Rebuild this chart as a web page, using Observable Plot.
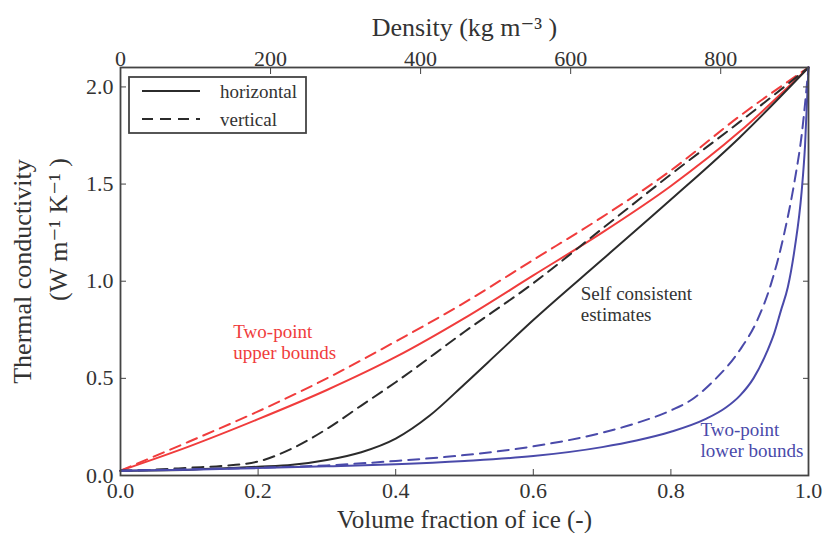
<!DOCTYPE html>
<html><head><meta charset="utf-8">
<script src="https://cdn.jsdelivr.net/npm/d3@7"></script>
<script src="https://cdn.jsdelivr.net/npm/@observablehq/plot@0.6"></script>
<style>
body{margin:0;background:#fff;}
#wrap{position:relative;width:825px;height:533px;}
#legend{position:absolute;left:128px;top:76px;}
</style></head><body><div id="wrap"></div>
<script>
const iceDensity = 917;
const xTicks = [0, 0.2, 0.4, 0.6, 0.8, 1.0];
const yTicks = [0, 0.5, 1.0, 1.5, 2.0];
const densityTicks = [0, 200, 400, 600, 800];

// Two-point upper bounds
const phiUpperH = [0, 0.1, 0.2, 0.3, 0.4, 0.5, 0.6, 0.7, 0.8, 0.9, 1.0];
const kUpperH   = [0.025, 0.15, 0.29, 0.44, 0.61, 0.81, 1.03, 1.25, 1.49, 1.77, 2.1];
const phiUpperV = [0, 0.1, 0.2, 0.3, 0.4, 0.5, 0.6, 0.7, 0.8, 0.9, 1.0];
const kUpperV   = [0.025, 0.175, 0.33, 0.50, 0.69, 0.89, 1.11, 1.33, 1.57, 1.85, 2.1];
// Self consistent estimates
const phiSelfH = [0, 0.1, 0.2, 0.25, 0.3, 0.35, 0.4, 0.45, 0.5, 0.55, 0.6, 0.7, 0.8, 0.9, 1.0];
const kSelfH   = [0.025, 0.03, 0.045, 0.055, 0.08, 0.12, 0.19, 0.31, 0.47, 0.635, 0.80, 1.11, 1.42, 1.74, 2.1];
const phiSelfV = [0, 0.05, 0.1, 0.15, 0.2, 0.25, 0.3, 0.35, 0.4, 0.5, 0.6, 0.7, 0.8, 0.9, 1.0];
const kSelfV   = [0.025, 0.03, 0.04, 0.05, 0.072, 0.14, 0.24, 0.36, 0.48, 0.74, 0.99, 1.27, 1.55, 1.82, 2.1];
// Two-point lower bounds
const phiLowerH = [0, 0.1, 0.2, 0.3, 0.4, 0.5, 0.6, 0.7, 0.75, 0.8, 0.85, 0.88, 0.9, 0.92, 0.94, 0.95, 0.96, 0.97, 0.98, 0.99, 0.995, 1.0];
const kLowerH   = [0.025, 0.03, 0.038, 0.047, 0.058, 0.075, 0.10, 0.146, 0.18, 0.225, 0.29, 0.35, 0.41, 0.50, 0.64, 0.73, 0.85, 0.97, 1.17, 1.46, 1.70, 2.1];
const phiLowerV = [0, 0.1, 0.2, 0.3, 0.4, 0.5, 0.6, 0.7, 0.75, 0.8, 0.83, 0.86, 0.9, 0.925, 0.945, 0.965, 0.98, 0.99, 1.0];
const kLowerV   = [0.025, 0.032, 0.04, 0.052, 0.075, 0.105, 0.15, 0.22, 0.27, 0.335, 0.39, 0.48, 0.645, 0.795, 0.98, 1.25, 1.52, 1.75, 2.1];

const RED = "#f03c3c", BLUE = "#4a4aaa", BLACK = "#2b2b2b";
const series = [
  {phi: phiUpperH, k: kUpperH, color: RED, dash: null},
  {phi: phiUpperV, k: kUpperV, color: RED, dash: "11,7"},
  {phi: phiSelfH, k: kSelfH, color: BLACK, dash: null},
  {phi: phiSelfV, k: kSelfV, color: BLACK, dash: "11,7"},
  {phi: phiLowerH, k: kLowerH, color: BLUE, dash: null},
  {phi: phiLowerV, k: kLowerV, color: BLUE, dash: "11,7"}
];

const annotations = [
  {phi: 0.164, k: 0.686, text: "Two-point\nupper bounds", color: RED},
  {phi: 0.669, k: 0.884, text: "Self consistent\nestimates", color: "#333"},
  {phi: 0.843, k: 0.185, text: "Two-point\nlower bounds", color: BLUE}
];

const FONT = "'Liberation Serif', 'DejaVu Serif', serif";
const fmt1 = d3.format(".1f");

const lineMarks = series.map(s => Plot.line(s.phi.map((p, i) => ({phi: p, k: s.k[i]})), {
  x: "phi", y: "k", stroke: s.color, strokeWidth: 2, strokeDasharray: s.dash, curve: "monotone-x"
}));

const chart = Plot.plot({
  width: 825, height: 533,
  marginLeft: 120, marginRight: 17, marginTop: 67, marginBottom: 58,
  style: {fontFamily: FONT, fontSize: "22px", color: "#333", background: "#fff"},
  x: {domain: [0, 1]},
  y: {domain: [0, 2.1]},
  marks: [
    ...lineMarks,
    Plot.text(annotations, {x: "phi", y: "k", text: "text", fill: "color", textAnchor: "start", lineAnchor: "middle", lineHeight: 1.1, fontSize: 19}),
    Plot.axisX({anchor: "bottom", ticks: xTicks, tickSize: 0, tickPadding: 7, tickFormat: fmt1, label: null, fill: "#333"}),
    Plot.axisX({anchor: "bottom", ticks: xTicks, tickSize: 6, dy: -6, fill: "none", label: null, stroke: "#444"}),
    Plot.axisX({anchor: "top", ticks: densityTicks.map(d => d / iceDensity), tickSize: 0, tickPadding: 2, tickFormat: d => Math.round(d * iceDensity), label: null, fill: "#333"}),
    Plot.axisX({anchor: "top", ticks: densityTicks.map(d => d / iceDensity), tickSize: 6, dy: 6, fill: "none", label: null, stroke: "#444"}),
    Plot.axisY({anchor: "left", ticks: yTicks, tickSize: 0, tickPadding: 7, tickFormat: fmt1, label: null, fill: "#333"}),
    Plot.axisY({anchor: "left", ticks: yTicks, tickSize: 6, dx: 6, fill: "none", label: null, stroke: "#444"}),
    Plot.axisY({anchor: "right", ticks: yTicks, tickSize: 6, dx: -6, fill: "none", label: null, stroke: "#444"}),
    Plot.frame({stroke: "#444", strokeWidth: 1.8}),
    Plot.text(["Volume fraction of ice (-)"], {text: d => d, frameAnchor: "bottom", textAnchor: "middle", dy: 44, lineAnchor: "middle", fontSize: 25, fill: "#333"}),
    Plot.text(["Density (kg m\u207B\u00B3 )"], {text: d => d, frameAnchor: "top", textAnchor: "middle", dy: -40, lineAnchor: "middle", fontSize: 26, fill: "#333"}),
    Plot.text(["Thermal conductivity"], {text: d => d, frameAnchor: "left", textAnchor: "middle", rotate: -90, dx: -98, dy: 0, lineAnchor: "middle", fontSize: 26, fill: "#333"}),
    Plot.text(["(W m\u207B\u00B9 K\u207B\u00B9 )"], {text: d => d, frameAnchor: "left", textAnchor: "middle", rotate: -90, dx: -62, dy: -42, lineAnchor: "middle", fontSize: 26, fill: "#333"})
  ]
});

const wrap = document.getElementById("wrap");
wrap.appendChild(chart);

// legend
const legendItems = [{label: "horizontal", dash: null}, {label: "vertical", dash: "11,7"}];
const ns = "http://www.w3.org/2000/svg";
const lg = document.createElementNS(ns, "svg");
lg.setAttribute("id", "legend");
lg.setAttribute("width", 180);
lg.setAttribute("height", 59);
const rect = document.createElementNS(ns, "rect");
rect.setAttribute("x", 1); rect.setAttribute("y", 1); rect.setAttribute("width", 177); rect.setAttribute("height", 56);
rect.setAttribute("fill", "#fff"); rect.setAttribute("stroke", "#444"); rect.setAttribute("stroke-width", 1.8);
lg.appendChild(rect);
legendItems.forEach((it, i) => {
  const y = 15 + i * 28;
  const l = document.createElementNS(ns, "line");
  l.setAttribute("x1", 14); l.setAttribute("x2", 72); l.setAttribute("y1", y); l.setAttribute("y2", y);
  l.setAttribute("stroke", BLACK); l.setAttribute("stroke-width", 2);
  if (it.dash) l.setAttribute("stroke-dasharray", it.dash);
  lg.appendChild(l);
  const t = document.createElementNS(ns, "text");
  t.setAttribute("x", 92); t.setAttribute("y", y); t.setAttribute("dy", "0.35em");
  t.setAttribute("font-family", FONT); t.setAttribute("font-size", 19); t.setAttribute("fill", "#333");
  t.textContent = it.label;
  lg.appendChild(t);
});
wrap.appendChild(lg);
</script></body></html>
